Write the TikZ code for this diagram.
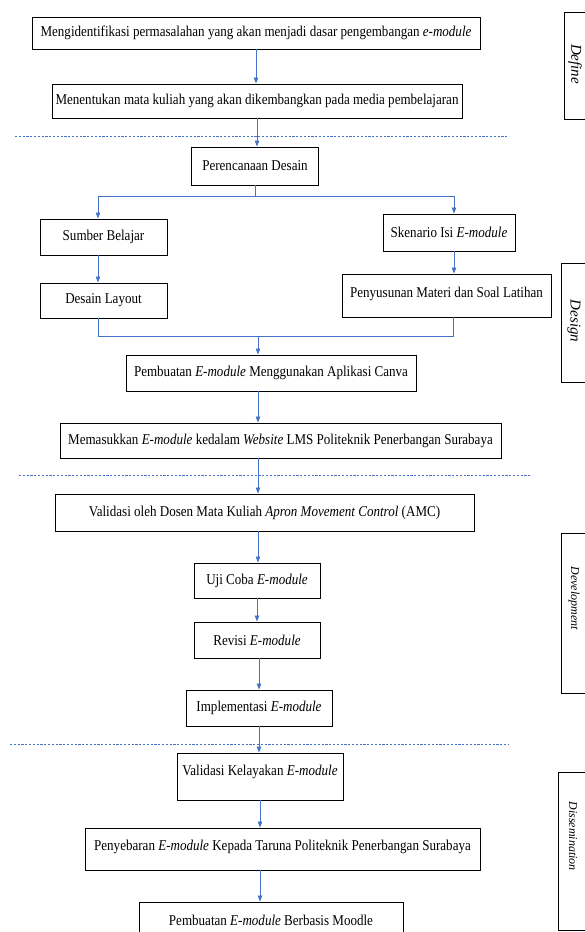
\documentclass[tikz,border=0pt]{standalone}
\usepackage{fontspec}
\setmainfont{Liberation Serif}
\usepackage{graphicx}
\usepackage{xcolor}
\usetikzlibrary{arrows.meta}
\definecolor{flowblue}{HTML}{4472C4}
\newcommand{\sq}[1]{\scalebox{0.87}[1]{#1}}
\newcommand{\emod}{\textit{E-module}}

\begin{document}
\begin{tikzpicture}[x=1pt, y=-1pt,
  font=\fontsize{15}{17}\selectfont,
  box/.style={draw=black, line width=0.9pt, align=center, inner sep=0pt},
  flow/.style={-{Triangle[length=6pt,width=4.5pt]}, line width=0.8pt, draw=flowblue},
  link/.style={line width=0.8pt, draw=flowblue},
  divider/.style={draw=flowblue, line width=0.7pt, dash pattern=on 2.2pt off 1.6pt},
  phasebox/.style={draw=black, line width=0.9pt},
  phase/.style={rotate=-90, font=\fontsize{12}{14}\selectfont\itshape}]
  \useasboundingbox (0,0) rectangle (584,932);
  % define
  \node[box, minimum width=448pt, minimum height=32pt] (ident) at (256,33)
    {\sq{Mengidentifikasi permasalahan yang akan menjadi dasar pengembangan \textit{e-module}}};
  \node[box, minimum width=410pt, minimum height=34pt] (course) at (257,101)
    {\sq{Menentukan mata kuliah yang akan dikembangkan pada media pembelajaran}};
  % design
  \node[box, minimum width=127pt, minimum height=38pt] (plan) at (255,166) {\sq{Perencanaan Desain}};
  \node[box, minimum width=127pt, minimum height=36pt] (source) at (103.5,237) {\sq{Sumber Belajar}};
  \node[box, minimum width=127pt, minimum height=35pt] (layout) at (103.5,300.5) {\sq{Desain Layout}};
  \node[box, minimum width=132pt, minimum height=37pt] (scenario) at (449,232.5) {\sq{Skenario Isi \emod}};
  \node[box, minimum width=209pt, minimum height=43pt, text depth=7pt] (material) at (446.5,295.5)
    {\sq{Penyusunan Materi dan Soal Latihan}};
  \node[box, minimum width=290pt, minimum height=36pt] (canva) at (271,373)
    {\sq{Pembuatan \emod{} Menggunakan Aplikasi Canva}};
  \node[box, minimum width=441pt, minimum height=35pt] (upload) at (280.5,440.5)
    {\sq{Memasukkan \emod{} kedalam \textit{Website} LMS Politeknik Penerbangan Surabaya}};
  % development
  \node[box, minimum width=419pt, minimum height=37pt] (validate) at (264.5,512.5)
    {\sq{Validasi oleh Dosen Mata Kuliah \textit{Apron Movement Control} (AMC)}};
  \node[box, minimum width=126pt, minimum height=35pt] (trial) at (257,580.5) {\sq{Uji Coba \emod}};
  \node[box, minimum width=126pt, minimum height=36pt] (revise) at (257,640) {\sq{Revisi \emod}};
  \node[box, minimum width=146pt, minimum height=36pt] (implement) at (259,708) {\sq{Implementasi \emod}};
  % dissemination
  \node[box, minimum width=166pt, minimum height=47pt, text depth=12pt] (feasible) at (260,776.5)
    {\sq{Validasi Kelayakan \emod}};
  \node[box, minimum width=395pt, minimum height=42pt, text depth=7pt] (spread) at (282.5,849)
    {\sq{Penyebaran \emod{} Kepada Taruna Politeknik Penerbangan Surabaya}};
  \node[box, minimum width=264pt, minimum height=36pt] (moodle) at (271,920)
    {\sq{Pembuatan \emod{} Berbasis Moodle}};
  % phase separators
  \draw[divider] (15,136) -- (509,136);
  \draw[divider] (19,475) -- (532,475);
  \draw[divider] (10,744) -- (509,744);
  % phase panels
  \draw[phasebox] (564,12) rectangle (600,119);
  \node[phase, font=\fontsize{15}{17}\selectfont\itshape] (pdefine) at (575,64) {Define};
  \draw[phasebox] (561,263) rectangle (600,382);
  \node[phase, font=\fontsize{15}{17}\selectfont\itshape] (pdesign) at (574,321) {Design};
  \draw[phasebox] (561,533) rectangle (600,693);
  \node[phase] (pdevelop) at (574,598) {Development};
  \draw[phasebox] (558,772) rectangle (600,930);
  \node[phase] (pdissem) at (573,836) {Dissemination};
  % bus points
  \coordinate (splitL) at (98,196);
  \coordinate (splitR) at (454,196);
  \coordinate (joinL) at (98,336);
  \coordinate (joinR) at (453,336);
  \coordinate (join) at (258,336);
  % connectors
  \draw[flow] (ident.south) -- (ident.south |- course.north);
  \draw[flow] (course.south) -- (course.south |- plan.north);
  \draw[link] (plan.south) -- (plan.south |- splitL);
  \draw[link] (splitL) -- (splitR);
  \draw[flow] (splitL) -- (splitL |- source.north);
  \draw[flow] (splitR) -- (splitR |- scenario.north);
  \draw[flow] (splitL |- source.south) -- (splitL |- layout.north);
  \draw[flow] (splitR |- scenario.south) -- (splitR |- material.north);
  \draw[link] (joinL |- layout.south) -- (joinL) -- (joinR) -- (joinR |- material.south);
  \draw[flow] (join) -- (join |- canva.north);
  \draw[flow] (join |- canva.south) -- (join |- upload.north);
  \draw[flow] (join |- upload.south) -- (join |- validate.north);
  \draw[flow] (join |- validate.south) -- (join |- trial.north);
  \draw[flow] (trial.south) -- (trial.south |- revise.north);
  \draw[flow] (implement.north |- revise.south) -- (implement.north);
  \draw[flow] (implement.south) -- (implement.south |- feasible.north);
  \draw[flow] (feasible.south) -- (feasible.south |- spread.north);
  \draw[flow] (feasible.south |- spread.south) -- (feasible.south |- moodle.north);
\end{tikzpicture}
\end{document}
